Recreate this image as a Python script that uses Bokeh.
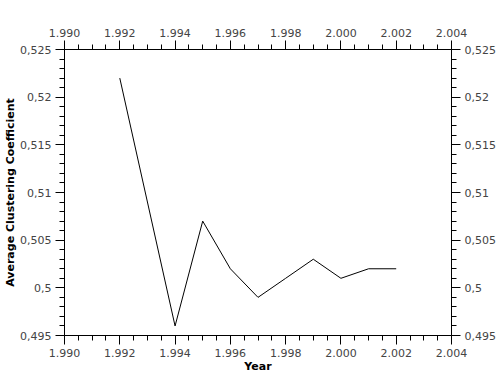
from bokeh.plotting import figure
from bokeh.models import LinearAxis, FixedTicker, CustomJSTickFormatter, Range1d
from bokeh.embed import file_html
from bokeh.resources import INLINE

years = [1992, 1994, 1995, 1996, 1997, 1998, 1999, 2000, 2001, 2002]
clustering = [0.522, 0.496, 0.507, 0.502, 0.499, 0.501, 0.503, 0.501, 0.502, 0.502]

x_ticks = [1990, 1992, 1994, 1996, 1998, 2000, 2002, 2004]
x_minor = [1990 + 0.5 * i for i in range(29)]
y_ticks = [0.495, 0.500, 0.505, 0.510, 0.515, 0.520, 0.525]
y_minor = [round(0.495 + 0.001 * i, 3) for i in range(31)]

p = figure(width=500, height=380, output_backend="svg", toolbar_location=None,
           x_range=Range1d(1990, 2004), y_range=Range1d(0.495, 0.525),
           min_border_left=64, min_border_right=49, min_border_top=49, min_border_bottom=45,
           x_axis_location=None, y_axis_location=None)
p.grid.visible = False
p.outline_line_color = None
p.background_fill_color = "white"
p.border_fill_color = "white"

p.line(years, clustering, line_color="black", line_width=1)

xfmt = CustomJSTickFormatter(code="return Math.round(tick).toString().replace(/(\\d)(\\d{3})$/, '$1.$2');")
yfmt = CustomJSTickFormatter(code="return tick.toFixed(3).replace(/0+$/,'').replace('.',',');")

def style(ax, title=None):
    ax.major_label_text_font = "DejaVu Sans"
    ax.major_label_text_font_size = "11px"
    ax.major_label_text_color = "#444444"
    ax.axis_line_color = "black"
    ax.major_tick_line_color = "black"
    ax.minor_tick_line_color = "black"
    ax.major_tick_in = 0
    ax.major_tick_out = 9
    ax.minor_tick_in = 0
    ax.minor_tick_out = 5
    ax.major_label_standoff = 4
    if title:
        ax.axis_label = title
        ax.axis_label_text_font = "DejaVu Sans"
        ax.axis_label_text_font_size = "11px"
        ax.axis_label_text_font_style = "bold"
        ax.axis_label_text_color = "black"
        ax.axis_label_standoff = 0

bottom = LinearAxis(ticker=FixedTicker(ticks=x_ticks, minor_ticks=x_minor), formatter=xfmt)
style(bottom, "Year")
top = LinearAxis(ticker=FixedTicker(ticks=x_ticks, minor_ticks=x_minor), formatter=xfmt)
style(top)
left = LinearAxis(ticker=FixedTicker(ticks=y_ticks, minor_ticks=y_minor), formatter=yfmt)
style(left, "Average Clustering Coefficient")
right = LinearAxis(ticker=FixedTicker(ticks=y_ticks, minor_ticks=y_minor), formatter=yfmt)
style(right)

p.add_layout(bottom, "below")
p.add_layout(top, "above")
p.add_layout(left, "left")
p.add_layout(right, "right")

open("out.html", "w").write(file_html(p, INLINE))
